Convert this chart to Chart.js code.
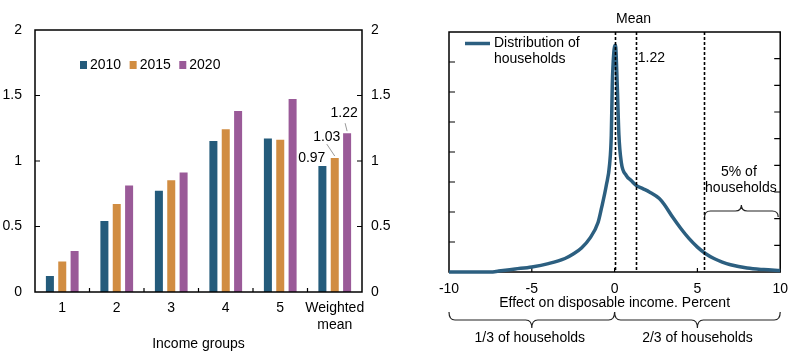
<!DOCTYPE html>
<html>
<head>
  <title>Income effect charts</title>
  <script src="https://cdn.jsdelivr.net/npm/chart.js"></script>
  <style>
    body { margin: 0; background: #fff; }
    #left { position: absolute; left: 0; top: 0; width: 400px; height: 364px; }
    #right { position: absolute; left: 400px; top: 0; width: 397px; height: 364px; }
  </style>
</head>
<body>
  <div id="left"><canvas id="barChart"></canvas></div>
  <div id="right"><canvas id="distChart"></canvas></div>
  <script>
    // left panel data
    const groups = ['1', '2', '3', '4', '5', ['Weighted', 'mean']];
    const years = ['2010', '2015', '2020'];
    const v2010 = [0.13, 0.55, 0.78, 1.16, 1.18, 0.97];
    const v2015 = [0.24, 0.68, 0.86, 1.25, 1.17, 1.03];
    const v2020 = [0.32, 0.82, 0.92, 1.39, 1.48, 1.22];
    const barTicks = [0, 0.5, 1, 1.5, 2];

    // right panel data
    const effectX = [-10, -9, -8, -7.5, -7, -6, -5, -4, -3, -2.5, -2, -1.5, -1, -0.8, -0.5, -0.3, -0.2, -0.14, -0.05, 0.05,
      0.16, 0.26, 0.4, 0.7, 1, 1.3, 1.7, 2.1, 2.7, 3, 3.5, 4, 4.5, 5, 5.5, 6, 6.5, 7, 8, 9, 10];
    const density = [0, 0, 0, 0, 0.03, 0.1, 0.17, 0.28, 0.45, 0.6, 0.8, 1.12, 1.65, 2.11, 2.89, 3.6, 4.56, 6.22, 7.3, 7.56,
      6.22, 4.56, 3.67, 3.22, 3.05, 2.89, 2.78, 2.67, 2.45, 2.25, 1.83, 1.45, 1.11, 0.83, 0.61, 0.45, 0.33, 0.24, 0.13, 0.08, 0.05];
    const effectTicks = [-10, -5, 0, 5, 10];
    const markerLines = [0, 1.28, 5.37];
    const meanLabel = '1.22';

    const FONT = '"Liberation Sans", Arial, sans-serif';
    Chart.defaults.font.family = FONT;
    Chart.defaults.font.size = 14;
    Chart.defaults.color = '#000';
    Chart.defaults.animation = false;

    function brace(ctx, x1, x2, yEnd, yLine, yTip) {
      const mid = (x1 + x2) / 2, r = 6;
      ctx.beginPath();
      ctx.moveTo(x1, yEnd);
      ctx.quadraticCurveTo(x1, yLine, x1 + r, yLine);
      ctx.lineTo(mid - r, yLine);
      ctx.quadraticCurveTo(mid, yLine, mid, yTip);
      ctx.quadraticCurveTo(mid, yLine, mid + r, yLine);
      ctx.lineTo(x2 - r, yLine);
      ctx.quadraticCurveTo(x2, yLine, x2, yEnd);
      ctx.stroke();
    }

    // ---- bar chart ----
    const barColors = ['#245b7b', '#d18d42', '#9a5a98'];
    const barExtras = {
      id: 'barExtras',
      afterDraw(chart) {
        const ctx = chart.ctx, a = chart.chartArea;
        const x = chart.scales.x, y = chart.scales.y;
        ctx.save();
        // frame
        ctx.strokeStyle = '#000';
        ctx.lineWidth = 1.5;
        ctx.strokeRect(a.left, a.top, a.right - a.left, a.bottom - a.top);
        ctx.lineWidth = 1.2;
        ctx.beginPath();
        barTicks.slice(1, -1).forEach(v => {
          const py = y.getPixelForValue(v);
          ctx.moveTo(a.left, py); ctx.lineTo(a.left + 5, py);
          ctx.moveTo(a.right, py); ctx.lineTo(a.right - 5, py);
        });
        for (let i = 0; i < groups.length - 1; i++) {
          const px = (x.getPixelForValue(i) + x.getPixelForValue(i + 1)) / 2;
          ctx.moveTo(px, a.bottom); ctx.lineTo(px, a.bottom - 4);
        }
        ctx.stroke();

        // legend
        ctx.font = '14px ' + FONT;
        ctx.textBaseline = 'middle';
        ctx.textAlign = 'left';
        let lx = 80;
        years.forEach((yr, i) => {
          ctx.fillStyle = barColors[i];
          ctx.fillRect(lx, 61, 7, 8);
          ctx.fillStyle = '#000';
          ctx.fillText(yr, lx + 10, 65);
          lx += 10 + ctx.measureText(yr).width + 8.5;
        });

        // value labels on weighted mean
        const last = groups.length - 1;
        const b0 = chart.getDatasetMeta(0).data[last];
        const b1 = chart.getDatasetMeta(1).data[last];
        const b2 = chart.getDatasetMeta(2).data[last];
        ctx.fillStyle = '#000';
        ctx.textAlign = 'right';
        ctx.fillText(v2010[last].toFixed(2), b0.x + 3, b0.y - 7);
        ctx.textAlign = 'center';
        ctx.fillText(v2015[last].toFixed(2), b1.x - 8, b1.y - 20);
        ctx.fillText(v2020[last].toFixed(2), b2.x - 3, b2.y - 19);
        ctx.strokeStyle = '#999';
        ctx.lineWidth = 1;
        ctx.beginPath();
        ctx.moveTo(b1.x - 8, b1.y - 13); ctx.lineTo(b1.x, b1.y - 1);
        ctx.moveTo(b2.x - 2, b2.y - 9); ctx.lineTo(b2.x, b2.y - 1);
        ctx.stroke();
        ctx.restore();
      }
    };

    new Chart(document.getElementById('barChart'), {
      type: 'bar',
      data: {
        labels: groups,
        datasets: [v2010, v2015, v2020].map((vals, i) => ({
          label: years[i],
          data: vals,
          backgroundColor: barColors[i],
          borderColor: 'rgba(255,255,255,0.5)',
          borderWidth: { top: 1, left: 1, right: 1, bottom: 0 },
          categoryPercentage: 0.68,
          barPercentage: 0.81
        }))
      },
      options: {
        responsive: true,
        maintainAspectRatio: false,
        layout: { padding: { top: 30, left: 0, right: 0, bottom: 0 } },
        plugins: { legend: { display: false }, tooltip: { enabled: false } },
        scales: {
          x: {
            grid: { display: false, drawTicks: false },
            border: { display: false },
            ticks: { padding: 8, maxRotation: 0, autoSkip: false },
            title: { display: true, text: 'Income groups', padding: { top: 0, bottom: 11 } },
            afterFit: s => { s.height = 72; }
          },
          y: {
            position: 'left', min: 0, max: 2,
            grid: { display: false, drawTicks: false },
            border: { display: false },
            ticks: { padding: 13, callback: v => String(v) },
            afterBuildTicks: s => { s.ticks = barTicks.map(v => ({ value: v })); },
            afterFit: s => { s.width = 35; }
          },
          y2: {
            position: 'right', min: 0, max: 2,
            grid: { display: false, drawTicks: false },
            border: { display: false },
            ticks: { padding: 9, callback: v => String(v) },
            afterBuildTicks: s => { s.ticks = barTicks.map(v => ({ value: v })); },
            afterFit: s => { s.width = 38; }
          }
        }
      },
      plugins: [barExtras]
    });

    // ---- distribution chart ----
    const lineColor = '#2c5f80';
    const distExtras = {
      id: 'distExtras',
      beforeDatasetsDraw(chart) {
        const ctx = chart.ctx, a = chart.chartArea;
        const x = chart.scales.x, yL = chart.scales.yL, yR = chart.scales.yR;
        ctx.save();
        ctx.strokeStyle = '#000';
        ctx.lineWidth = 1.5;
        ctx.strokeRect(a.left, a.top, a.right - a.left, a.bottom - a.top);
        ctx.lineWidth = 1.2;
        ctx.beginPath();
        for (let v = 1; v < 8; v++) {
          const py = yL.getPixelForValue(v);
          ctx.moveTo(a.left, py); ctx.lineTo(a.left + 6, py);
        }
        for (let v = 1; v < 9; v++) {
          const py = yR.getPixelForValue(v);
          ctx.moveTo(a.right, py); ctx.lineTo(a.right - 6, py);
        }
        effectTicks.slice(1, -1).forEach(v => {
          const px = x.getPixelForValue(v);
          ctx.moveTo(px, a.bottom); ctx.lineTo(px, a.bottom - 4);
        });
        ctx.stroke();
        ctx.restore();
      },
      afterDraw(chart) {
        const ctx = chart.ctx, a = chart.chartArea;
        const x = chart.scales.x;
        ctx.save();
        // dashed markers
        ctx.strokeStyle = '#000';
        ctx.lineWidth = 1.6;
        ctx.setLineDash([3, 2]);
        ctx.beginPath();
        markerLines.forEach(v => {
          const px = Math.round(x.getPixelForValue(v)) + 0.5;
          ctx.moveTo(px, a.top); ctx.lineTo(px, a.bottom);
        });
        ctx.stroke();
        ctx.setLineDash([]);

        // legend
        ctx.strokeStyle = lineColor;
        ctx.lineWidth = 3.5;
        ctx.beginPath();
        ctx.moveTo(a.left + 16, 43.5); ctx.lineTo(a.left + 41, 43.5);
        ctx.stroke();
        ctx.fillStyle = '#000';
        ctx.font = '14px ' + FONT;
        ctx.textBaseline = 'middle';
        ctx.textAlign = 'left';
        ctx.fillText('Distribution of', a.left + 45, 43);
        ctx.fillText('households', a.left + 45, 59);

        const p0 = x.getPixelForValue(markerLines[0]);
        const p1 = x.getPixelForValue(markerLines[1]);
        const p2 = x.getPixelForValue(markerLines[2]);
        ctx.fillText(meanLabel, p1 + 2, 58);
        ctx.textAlign = 'center';
        ctx.fillText('Mean', p0 + 19, 19);

        // 5% brace
        const tailMid = (p2 + a.right - 2) / 2;
        ctx.fillText('5% of', tailMid - 2, 172);
        ctx.fillText('households', tailMid, 188);
        ctx.strokeStyle = '#222';
        ctx.lineWidth = 1.2;
        brace(ctx, p2 + 1, a.right - 2, 217, 211, 205);

        // bottom braces
        brace(ctx, a.left, p0, 312, 320, 328);
        brace(ctx, p0, a.right, 312, 320, 328);
        ctx.fillText('1/3 of households', (a.left + p0) / 2 - 2, 338);
        ctx.fillText('2/3 of households', (p0 + a.right) / 2, 338);
        ctx.restore();
      }
    };

    new Chart(document.getElementById('distChart'), {
      type: 'line',
      data: {
        datasets: [{
          label: 'Distribution of households',
          data: effectX.map((v, i) => ({ x: v, y: density[i] })),
          borderColor: lineColor,
          borderWidth: 3.5,
          pointRadius: 0,
          cubicInterpolationMode: 'monotone',
          yAxisID: 'yL',
          clip: 3
        }]
      },
      options: {
        responsive: true,
        maintainAspectRatio: false,
        layout: { padding: { top: 32, left: 0, right: 0, bottom: 0 } },
        plugins: { legend: { display: false }, tooltip: { enabled: false } },
        scales: {
          x: {
            type: 'linear', min: -10, max: 10,
            grid: { display: false, drawTicks: false },
            border: { display: false },
            ticks: { padding: 9, maxRotation: 0 },
            afterBuildTicks: s => { s.ticks = effectTicks.map(v => ({ value: v })); },
            title: { display: true, text: 'Effect on disposable income. Percent', padding: { top: 0, bottom: 52 } },
            afterFit: s => { s.height = 92; }
          },
          yL: {
            position: 'left', min: 0, max: 8,
            grid: { display: false, drawTicks: false },
            border: { display: false },
            ticks: { display: false },
            afterFit: s => { s.width = 49; }
          },
          yR: {
            position: 'right', min: 0, max: 9,
            grid: { display: false, drawTicks: false },
            border: { display: false },
            ticks: { display: false },
            afterFit: s => { s.width = 16; }
          }
        }
      },
      plugins: [distExtras]
    });
  </script>
</body>
</html>
